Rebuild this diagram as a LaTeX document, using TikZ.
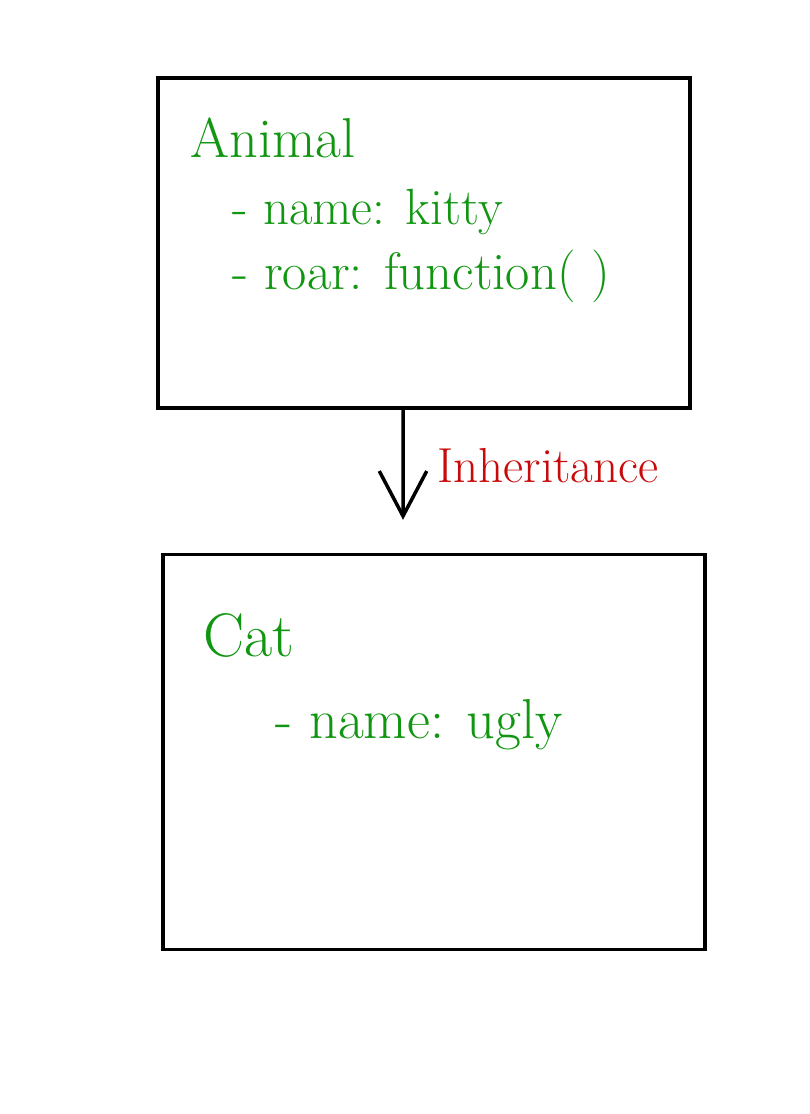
\documentclass[tikz,border=0pt]{standalone}
\usetikzlibrary{arrows.meta}
\definecolor{inkgreen}{RGB}{16,150,16}
\definecolor{inkred}{RGB}{200,10,10}
\begin{document}
\begin{tikzpicture}[x=0.02cm,y=-0.02cm]
        \useasboundingbox[fill=white] (0,0) rectangle (809,1114);
        \node[draw,line width=2pt,minimum width=10.64cm,minimum height=6.6cm] (animal) at (424,243){};
        \node[draw,line width=2pt,minimum width=10.84cm,minimum height=7.9cm] (cat) at (434,752){};

        \node[anchor=base west,inner sep=0,text=inkgreen,font=\fontsize{32}{38}\selectfont] (animalname) at (190,158){Animal};
        \node[anchor=base west,inner sep=0,text=inkgreen,font=\fontsize{29}{35}\selectfont] (kitty) at (232,225){- name: kitty};
        \node[anchor=base west,inner sep=0,text=inkgreen,font=\fontsize{30}{36}\selectfont] (roar) at (232,290){- roar: function( )};
        \node[anchor=base west,inner sep=0,text=inkgreen,font=\fontsize{35}{42}\selectfont] (catname) at (203,656){Cat};
        \node[anchor=base west,inner sep=0,text=inkgreen,font=\fontsize{32}{38}\selectfont] (ugly) at (275,738){- name: ugly};

        \path [draw,line width=2pt,-{Straight Barb[length=0.9cm,width=0.95cm,line width=2pt]},shorten >=0.66cm] ([xshift=-0.42cm]animal.south) to ([xshift=-0.62cm]cat.north);
        \node[anchor=base west,inner sep=0,text=inkred,font=\fontsize{28}{34}\selectfont] (inherit) at (437,482){Inheritance};
    \end{tikzpicture}
\end{document}
